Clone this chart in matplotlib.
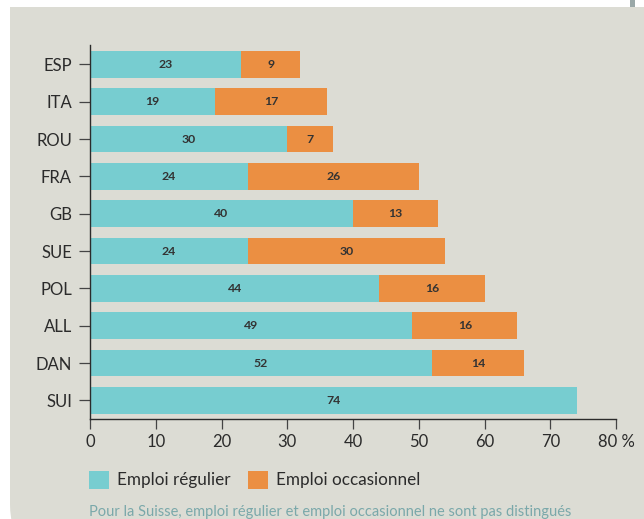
import numpy as np
import matplotlib.pyplot as plt
from matplotlib.patches import FancyBboxPatch, Rectangle
from matplotlib.transforms import IdentityTransform

plt.rcParams['font.family'] = ['Lato', 'DejaVu Sans']

# data, top to bottom as in the chart
countries = ['ESP', 'ITA', 'ROU', 'FRA', 'GB', 'SUE', 'POL', 'ALL', 'DAN', 'SUI']
regulier = [23, 19, 30, 24, 40, 24, 44, 49, 52, 74]
occasionnel = [9, 17, 7, 26, 13, 30, 16, 16, 14, 0]
xticks = [0, 10, 20, 30, 40, 50, 60, 70, 80]
xticklabels = ['0', '10', '20', '30', '40', '50', '60', '70', '80 %']

teal = '#77cdd0'
orange = '#eb8f42'
panel = '#dcdcd4'
dark = '#2b2b2b'

fig = plt.figure(figsize=(6.44, 5.19), dpi=100)
fig.patch.set_facecolor('white')

# grey panel, only the lower-left corner rounded (pixel coordinates)
px = IdentityTransform()
fig.patches.append(FancyBboxPatch((10, -40), 700, 700,
                                  boxstyle='round,pad=0,rounding_size=55',
                                  transform=px, facecolor=panel,
                                  edgecolor='none', zorder=-3))
fig.patches.append(Rectangle((0, 512), 644, 10, transform=px,
                             facecolor='white', edgecolor='none', zorder=-2))
fig.patches.append(Rectangle((630, 512), 5, 7, transform=px,
                             facecolor='#9aa8a8', edgecolor='none', zorder=-1))

ax = fig.add_axes([90 / 644, 1 - 419 / 519, 526 / 644, 374 / 519])
ax.set_facecolor('none')

y = np.arange(len(countries))[::-1]
h = 0.72
ax.barh(y, regulier, height=h, color=teal, zorder=2)
ax.barh(y, occasionnel, left=regulier, height=h, color=orange, zorder=2)

for yi, r, o in zip(y, regulier, occasionnel):
    ax.text(r / 2, yi, str(r), ha='center', va='center', fontsize=8.8,
            fontweight='bold', color='#333333', zorder=3)
    if o:
        ax.text(r + o / 2, yi, str(o), ha='center', va='center', fontsize=8.8,
                fontweight='bold', color='#333333', zorder=3)

ax.set_xlim(0, 80)
ax.set_ylim(-0.5, 9.52)
ax.set_yticks(y)
ax.set_yticklabels(countries)
ax.set_xticks(xticks)
ax.set_xticklabels(xticklabels)

for s in ['top', 'right']:
    ax.spines[s].set_visible(False)
for s in ['left', 'bottom']:
    ax.spines[s].set_color(dark)
    ax.spines[s].set_linewidth(1.0)
    ax.spines[s].set_zorder(4)

ax.tick_params(axis='y', length=8, width=0.9, color='#444444', pad=5,
               labelsize=12, labelcolor=dark)
ax.tick_params(axis='x', length=7, width=0.9, color='#444444', pad=4,
               labelsize=12, labelcolor=dark)

# legend
fig.patches.append(Rectangle((89, 519 - 489), 20, 18, transform=px,
                             facecolor=teal, edgecolor='none'))
fig.text(117 / 644, 1 - 480 / 519, 'Emploi régulier', fontsize=12.3, color=dark,
         va='center', ha='left')
fig.patches.append(Rectangle((248, 519 - 489), 20, 18, transform=px,
                             facecolor=orange, edgecolor='none'))
fig.text(276 / 644, 1 - 480 / 519, 'Emploi occasionnel', fontsize=12.3, color=dark,
         va='center', ha='left')

fig.text(89 / 644, 1 - 512 / 519,
         'Pour la Suisse, emploi régulier et emploi occasionnel ne sont pas distingués',
         fontsize=10.5, color='#7aa8aa', va='center', ha='left')

fig.savefig('out.png', dpi=100)
